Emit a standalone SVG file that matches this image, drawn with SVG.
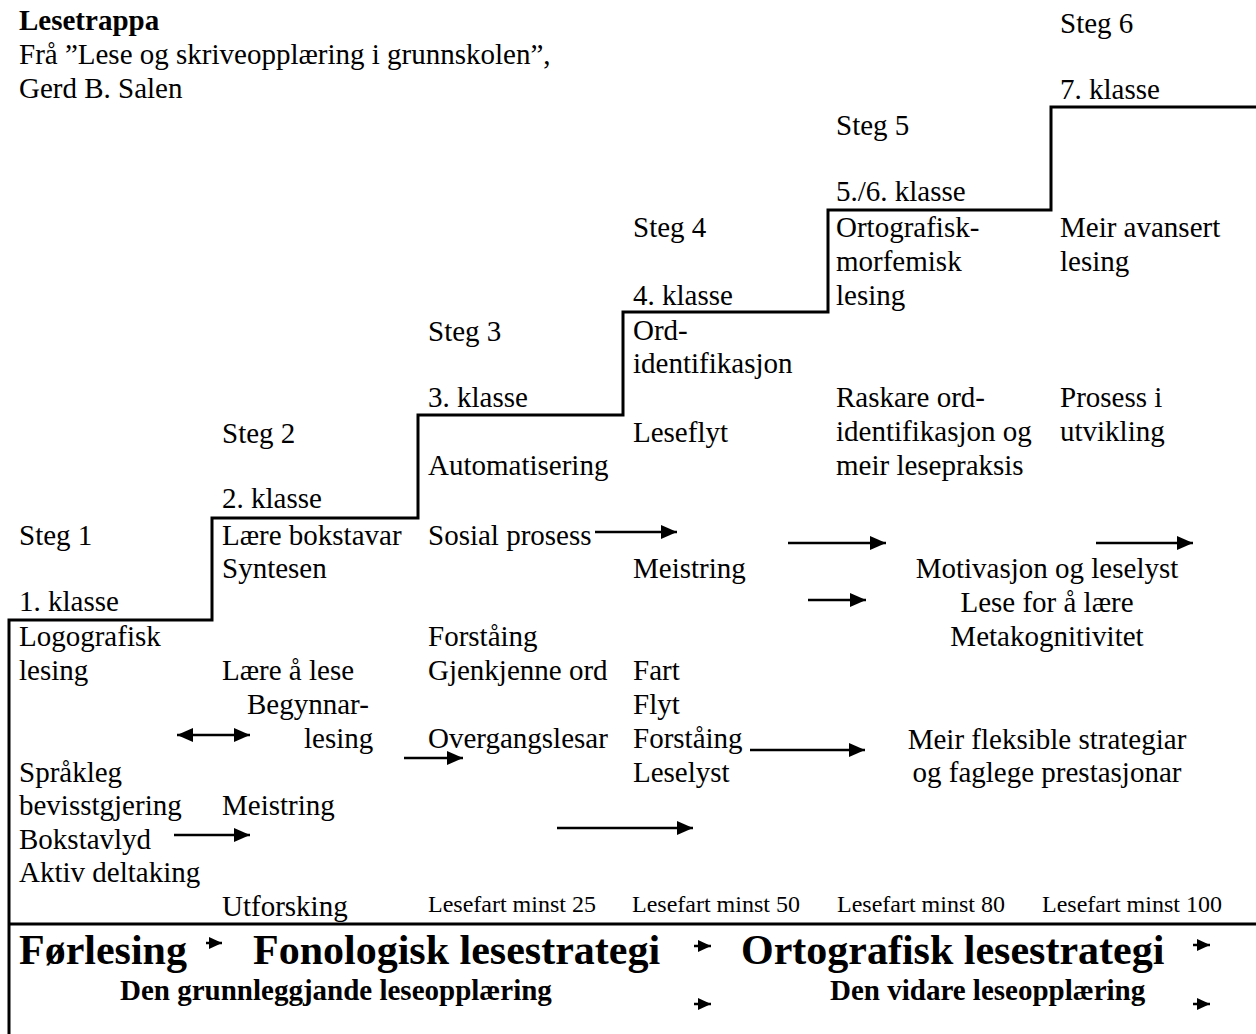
<svg xmlns="http://www.w3.org/2000/svg" width="1256" height="1034" viewBox="0 0 1256 1034">
<style>
text{font-family:"Liberation Serif","Times New Roman",serif;fill:#000}
.t{font-size:29px}
.s{font-size:24px}
.b{font-size:29px;font-weight:bold}
.B{font-size:42px;font-weight:bold}
.c{text-anchor:middle}
.ln{fill:none;stroke:#000;stroke-width:3}
.ar{fill:none;stroke:#000;stroke-width:2.5}
</style>
<defs>
<marker id="ah" markerUnits="userSpaceOnUse" markerWidth="16" markerHeight="14" viewBox="0 0 16 14" refX="16" refY="7" orient="auto-start-reverse"><path d="M0,0 L16,7 L0,14 z" fill="#000"/></marker>
<marker id="sh" markerUnits="userSpaceOnUse" markerWidth="13" markerHeight="12" viewBox="0 0 13 12" refX="13" refY="6" orient="auto"><path d="M0,0 L13,6 L0,12 z" fill="#000"/></marker>
</defs>
<rect width="1256" height="1034" fill="#fff"/>
<g id="staircase">
<path class="ln" d="M9 1034 V620 H212 V518 H418 V415 H623 V312 H828 V210 H1051 V107 H1256"/>
<path class="ln" d="M9 924 H1256"/>
</g>
<g id="title">
<text class="b" x="19" y="30">Lesetrappa</text>
<text class="t" x="19" y="64">Frå ”Lese og skriveopplæring i grunnskolen”,</text>
<text class="t" x="19" y="98">Gerd B. Salen</text>
</g>
<g id="steg1">
<text class="t" x="19" y="545">Steg 1</text>
<text class="t" x="19" y="611">1. klasse</text>
<text class="t" x="19" y="646">Logografisk</text>
<text class="t" x="19" y="680">lesing</text>
<text class="t" x="19" y="782">Språkleg</text>
<text class="t" x="19" y="815">bevisstgjering</text>
<text class="t" x="19" y="849">Bokstavlyd</text>
<text class="t" x="19" y="882">Aktiv deltaking</text>
</g>
<g id="steg2">
<text class="t" x="222" y="443">Steg 2</text>
<text class="t" x="222" y="508">2. klasse</text>
<text class="t" x="222" y="545">Lære bokstavar</text>
<text class="t" x="222" y="578">Syntesen</text>
<text class="t" x="222" y="680">Lære å lese</text>
<text class="t" x="247" y="714">Begynnar-</text>
<text class="t" x="304" y="748">lesing</text>
<text class="t" x="222" y="815">Meistring</text>
<text class="t" x="222" y="916">Utforsking</text>
</g>
<g id="steg3">
<text class="t" x="428" y="341">Steg 3</text>
<text class="t" x="428" y="407">3. klasse</text>
<text class="t" x="428" y="475">Automatisering</text>
<text class="t" x="428" y="545">Sosial prosess</text>
<text class="t" x="428" y="646">Forståing</text>
<text class="t" x="428" y="680">Gjenkjenne ord</text>
<text class="t" x="428" y="748">Overgangslesar</text>
<text class="s" x="428" y="912">Lesefart minst 25</text>
</g>
<g id="steg4">
<text class="t" x="633" y="237">Steg 4</text>
<text class="t" x="633" y="305">4. klasse</text>
<text class="t" x="633" y="340">Ord-</text>
<text class="t" x="633" y="373">identifikasjon</text>
<text class="t" x="633" y="442">Leseflyt</text>
<text class="t" x="633" y="578">Meistring</text>
<text class="t" x="633" y="680">Fart</text>
<text class="t" x="633" y="714">Flyt</text>
<text class="t" x="633" y="748">Forståing</text>
<text class="t" x="633" y="782">Leselyst</text>
<text class="s" x="632" y="912">Lesefart minst 50</text>
</g>
<g id="steg5">
<text class="t" x="836" y="135">Steg 5</text>
<text class="t" x="836" y="201">5./6. klasse</text>
<text class="t" x="836" y="237">Ortografisk-</text>
<text class="t" x="836" y="271">morfemisk</text>
<text class="t" x="836" y="305">lesing</text>
<text class="t" x="836" y="407">Raskare ord-</text>
<text class="t" x="836" y="441">identifikasjon og</text>
<text class="t" x="836" y="475">meir lesepraksis</text>
<text class="s" x="837" y="912">Lesefart minst 80</text>
</g>
<g id="steg6">
<text class="t" x="1060" y="33">Steg 6</text>
<text class="t" x="1060" y="99">7. klasse</text>
<text class="t" x="1060" y="237">Meir avansert</text>
<text class="t" x="1060" y="271">lesing</text>
<text class="t" x="1060" y="407">Prosess i</text>
<text class="t" x="1060" y="441">utvikling</text>
<text class="s" x="1042" y="912">Lesefart minst 100</text>
</g>
<g id="outcomes">
<text class="t c" x="1047" y="578">Motivasjon og leselyst</text>
<text class="t c" x="1047" y="612">Lese for å lære</text>
<text class="t c" x="1047" y="646">Metakognitivitet</text>
<text class="t c" x="1047" y="749">Meir fleksible strategiar</text>
<text class="t c" x="1047" y="782">og faglege prestasjonar</text>
</g>
<g id="strategies">
<text class="B" x="19" y="964">Førlesing</text>
<text class="B" x="253" y="964">Fonologisk lesestrategi</text>
<text class="B" x="741" y="964">Ortografisk lesestrategi</text>
<text class="b" x="120" y="1000">Den grunnleggjande leseopplæring</text>
<text class="b" x="830" y="1000">Den vidare leseopplæring</text>
</g>
<g id="connectors">
<line class="ar" x1="177" y1="735" x2="250" y2="735" marker-start="url(#ah)" marker-end="url(#ah)"/>
<line class="ar" x1="174" y1="835" x2="250" y2="835" marker-end="url(#ah)"/>
<line class="ar" x1="404" y1="758" x2="463" y2="758" marker-end="url(#ah)"/>
<line class="ar" x1="557" y1="828" x2="693" y2="828" marker-end="url(#ah)"/>
<line class="ar" x1="595" y1="532" x2="677" y2="532" marker-end="url(#ah)"/>
<line class="ar" x1="750" y1="750" x2="865" y2="750" marker-end="url(#ah)"/>
<line class="ar" x1="788" y1="543" x2="886" y2="543" marker-end="url(#ah)"/>
<line class="ar" x1="808" y1="600" x2="866" y2="600" marker-end="url(#ah)"/>
<line class="ar" x1="1096" y1="543" x2="1193" y2="543" marker-end="url(#ah)"/>
<line class="ar" x1="206" y1="943" x2="222" y2="943" marker-end="url(#sh)"/>
<line class="ar" x1="694" y1="946" x2="711" y2="946" marker-end="url(#sh)"/>
<line class="ar" x1="1193" y1="945" x2="1210" y2="945" marker-end="url(#sh)"/>
<line class="ar" x1="694" y1="1004" x2="711" y2="1004" marker-end="url(#sh)"/>
<line class="ar" x1="1193" y1="1004" x2="1210" y2="1004" marker-end="url(#sh)"/>
</g>
</svg>
